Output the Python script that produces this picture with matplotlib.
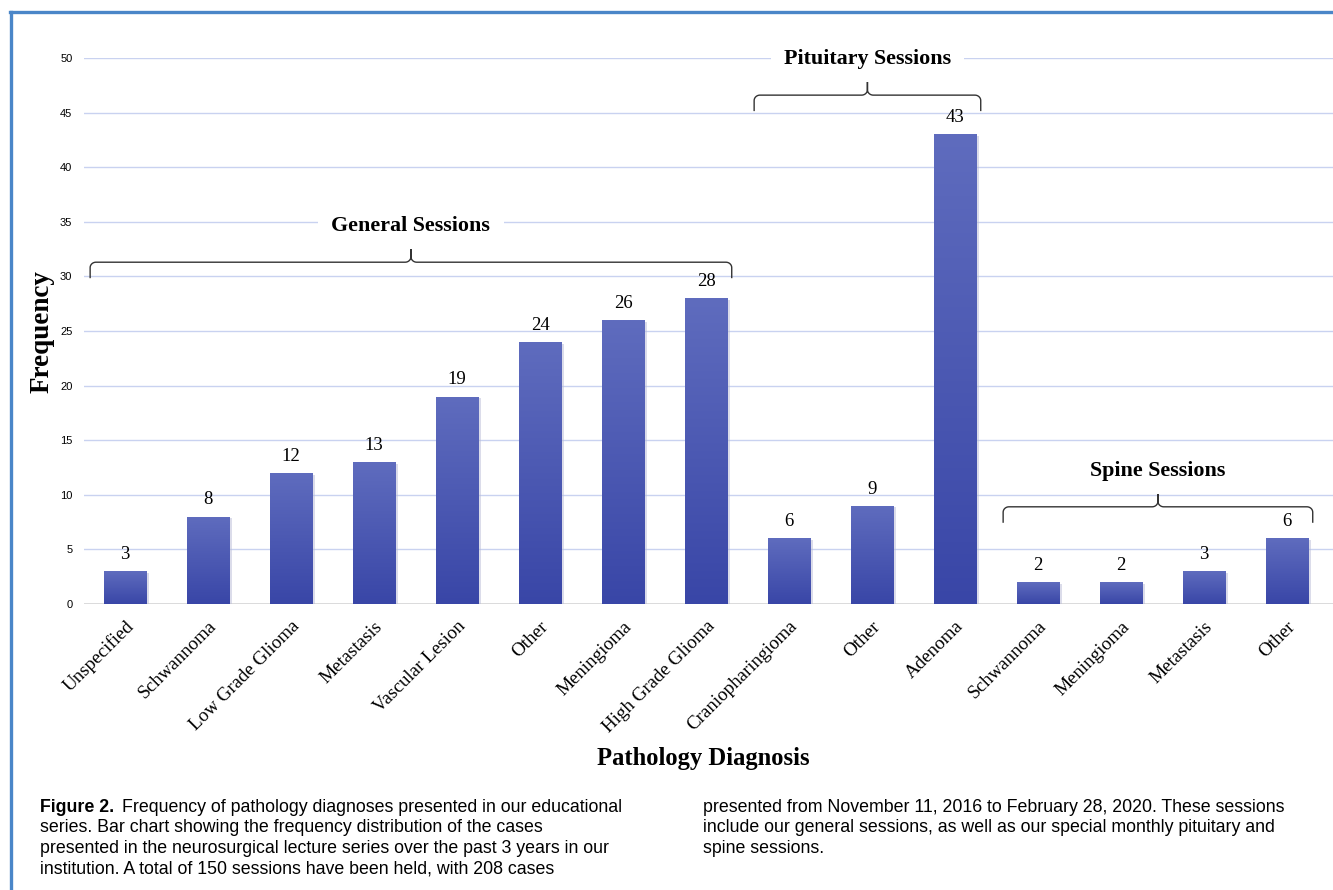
import numpy as np
import matplotlib.pyplot as plt
from matplotlib.lines import Line2D
from matplotlib.colors import LinearSegmentedColormap

categories = ["Unspecified", "Schwannoma", "Low Grade Glioma", "Metastasis",
              "Vascular Lesion", "Other", "Meningioma", "High Grade Glioma",
              "Craniopharingioma", "Other", "Adenoma",
              "Schwannoma", "Meningioma", "Metastasis", "Other"]
frequency = [3, 8, 12, 13, 19, 24, 26, 28, 6, 9, 43, 2, 2, 3, 6]

group_names = ["General Sessions", "Pituitary Sessions", "Spine Sessions"]
group_first = [0, 8, 11]
group_last = [7, 10, 14]

caption_left = [
    "Frequency of pathology diagnoses presented in our educational",
    "series. Bar chart showing the frequency distribution of the cases",
    "presented in the neurosurgical lecture series over the past 3 years in our",
    "institution. A total of 150 sessions have been held, with 208 cases",
]
caption_right = [
    "presented from November 11, 2016 to February 28, 2020. These sessions",
    "include our general sessions, as well as our special monthly pituitary and",
    "spine sessions.",
]

SERIF = "Liberation Serif"
SANS = "Liberation Sans"

W, H = 1333, 890
fig = plt.figure(figsize=(W / 100, H / 100), dpi=100)
fig.patch.set_facecolor("white")

# axes reaches past the right edge like the cropped original
ax = fig.add_axes([83.5 / W, (H - 604) / H, 1328 / W, 546 / H])
for s in ax.spines.values():
    s.set_visible(False)
ax.set_yticks(range(0, 51, 5))
ax.yaxis.grid(True, color="#c9d2f0", lw=1.0)
ax.set_axisbelow(True)
ax.tick_params(axis="y", length=0, pad=8, labelsize=8)
for t in ax.get_yticklabels():
    t.set_fontfamily(SANS)
ax.axhline(0, color="#d6d6d6", lw=1.2, zorder=1)

x = np.arange(len(frequency))
bars = ax.bar(x, frequency, width=0.51, color="none", edgecolor="none", zorder=2)
cmap = LinearSegmentedColormap.from_list("g", ["#3946a7", "#5f6cbe"])
grad = np.linspace(0, 1, 256).reshape(-1, 1)
for b, v in zip(bars, frequency):
    x0 = b.get_x()
    # soft shadow
    ax.bar(x0 + b.get_width() / 2 + 0.03, v, width=b.get_width(), bottom=-0.15,
           color="#b8bbd6", alpha=0.5, zorder=1.5)
    im = ax.imshow(grad, cmap=cmap, origin="lower", aspect="auto",
                   extent=(x0, x0 + b.get_width(), 0, v), zorder=3)
    im.set_clip_path(b)
    ax.text(x0 + b.get_width() / 2, v + 0.75, str(v), ha="center", va="bottom",
            fontsize=13.5, fontfamily=SERIF, zorder=4)
ax.set_xlim(-0.5, 15.5)
ax.set_ylim(0, 50)

ax.set_xticks(x)
ax.set_xticklabels(categories, rotation=45, ha="right", rotation_mode="anchor",
                   fontsize=13.7, fontfamily=SERIF)
ax.tick_params(axis="x", length=0, pad=10)


def brace(ax, xl, xr, by, drop=1.4, tip=1.3, rx=0.07, ry=0.5):
    xm = (xl + xr) / 2
    t = np.linspace(0, np.pi / 2, 12)
    # left half
    lx = np.concatenate([[xl], xl + rx - rx * np.cos(t), xm - rx + rx * np.sin(t), [xm]])
    ly = np.concatenate([[by - drop], by - ry + ry * np.sin(t), by + ry - ry * np.cos(t),
                         [by + tip]])
    # mirror for right half
    rx_ = 2 * xm - lx[::-1]
    ry_ = ly[::-1]
    ax.plot(np.concatenate([lx, rx_]), np.concatenate([ly, ry_]),
            color="#333333", lw=1.0, zorder=5, solid_joinstyle="round")
    return xm


bracket_y = [31.3, 46.6, 8.9]
for name, lo, hi, by in zip(group_names, group_first, group_last, bracket_y):
    xm = brace(ax, lo - 0.42, hi + 0.31, by)
    ax.text(xm, by + 3.3, name, ha="center", va="center", fontsize=15.8,
            fontweight="bold", fontfamily=SERIF, zorder=5,
            bbox=dict(boxstyle="square,pad=0.6", fc="white", ec="none"))

fig.text(42 / W, 1 - 332 / H, "Frequency", rotation=90, ha="center", va="center",
         fontsize=19.5, fontweight="bold", fontfamily=SERIF)
fig.text(703 / W, 1 - 759 / H, "Pathology Diagnosis", ha="center", va="center",
         fontsize=17.7, fontweight="bold", fontfamily=SERIF)

# frame line
fig.add_artist(Line2D([11 / W, 11 / W], [0, 1 - 12 / H], transform=fig.transFigure,
                      color="#4a86c8", lw=2.4))
fig.add_artist(Line2D([10 / W, 1], [1 - 12 / H, 1 - 12 / H], transform=fig.transFigure,
                      color="#4a86c8", lw=2.4))

# caption
fig.canvas.draw()
r = fig.canvas.get_renderer()
line_h = 20.7
y0 = 807
fs = 12.8
lab = fig.text(40 / W, 1 - y0 / H, "Figure 2.", ha="left", va="center",
               fontsize=fs, fontweight="bold", family=SANS)
ext = lab.get_window_extent(r)
fig.text((ext.x1 + 8) / W, 1 - y0 / H, caption_left[0], ha="left", va="center",
         fontsize=fs, family=SANS)
for i, line in enumerate(caption_left[1:], start=1):
    fig.text(40 / W, 1 - (y0 + i * line_h) / H, line, ha="left", va="center",
             fontsize=fs, family=SANS)
for i, line in enumerate(caption_right):
    fig.text(703 / W, 1 - (y0 + i * line_h) / H, line, ha="left", va="center",
             fontsize=fs, family=SANS)

fig.savefig("out.png", dpi=100)
